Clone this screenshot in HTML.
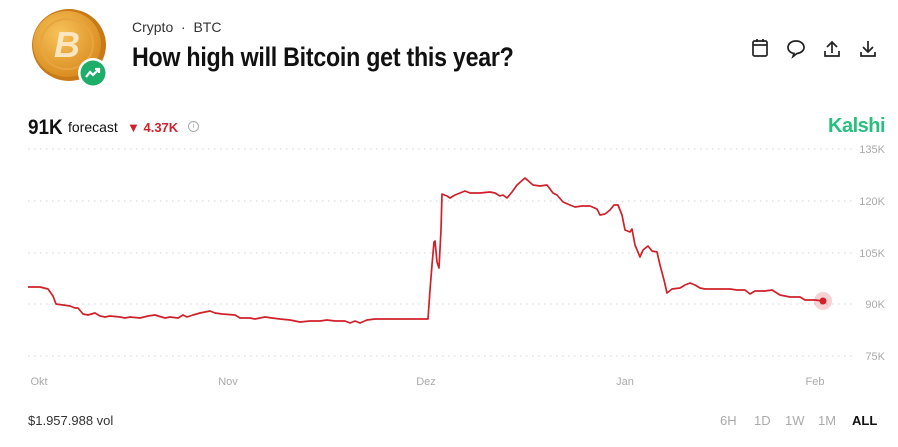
<!DOCTYPE html>
<html><head><meta charset="utf-8"><style>
body{margin:0;width:898px;height:447px;background:#fff;font-family:"Liberation Sans",sans-serif;position:relative;overflow:hidden}
.a{position:absolute;white-space:nowrap}
</style></head><body>
<svg class="a" style="left:28px;top:8px" width="84" height="84" viewBox="0 0 84 84">
<defs><radialGradient id="g" cx="40%" cy="35%" r="70%"><stop offset="0" stop-color="#f7c35a"/><stop offset="1" stop-color="#d8891c"/></radialGradient></defs>
<ellipse cx="41" cy="37" rx="37" ry="36" fill="#c87a18"/>
<ellipse cx="39" cy="36" rx="34" ry="33" fill="url(#g)"/>
<ellipse cx="39" cy="36" rx="26" ry="25" fill="none" stroke="#e8a440" stroke-width="2"/>
<text x="39" y="49" text-anchor="middle" font-size="36" font-weight="bold" font-style="italic" fill="#fbe6c0" font-family="Liberation Sans">B</text>
<circle cx="65" cy="65" r="15" fill="#fff"/><circle cx="65" cy="65" r="12.5" fill="#1eae6a"/>
<polyline points="58,69 62,64 65,67 71,61" fill="none" stroke="#fff" stroke-width="2.2"/>
<polyline points="67,61 71,61 71,65" fill="none" stroke="#fff" stroke-width="2.2"/>
</svg>
<div class="a" style="left:132px;top:19px;font-size:14px;color:#333">Crypto &nbsp;·&nbsp; BTC</div>
<div class="a" style="left:132px;top:42px;font-size:27px;font-weight:bold;color:#111;transform:scaleX(0.86);transform-origin:left;letter-spacing:-0.3px">How high will Bitcoin get this year?</div>
<svg class="a" style="left:750px;top:38px" width="130" height="22" fill="none" stroke="#222" stroke-width="1.7">
<rect x="3" y="3" width="14" height="15" rx="1.5"/><line x1="3" y1="7" x2="17" y2="7"/><line x1="7" y1="1" x2="7" y2="4"/><line x1="13" y1="1" x2="13" y2="4"/>
<path d="M46 3c-5 0-8 3-8 6.5 0 3 2.5 5.5 6 6l-1 3 4-3c4-.5 7-3 7-6 0-3.5-3-6.5-8-6.5z"/>
<path d="M82 4v11M77 9l5-5 5 5M75 13v5h14v-5"/>
<path d="M118 3v11M113 9l5 5 5-5M111 14v4h14v-4"/>
</svg>
<div class="a" style="left:28px;top:116px;font-size:21px;font-weight:bold;color:#111;transform:scaleX(0.9);transform-origin:left">91K</div>
<div class="a" style="left:68px;top:119px;font-size:14px;color:#111">forecast</div>
<div class="a" style="left:127px;top:120px;font-size:13px;color:#d0202a">▼ <b>4.37K</b></div>
<div class="a" style="left:188px;top:121px;width:9px;height:9px;border:1px solid #aaa;border-radius:50%;font-size:7px;color:#999;text-align:center;line-height:9px">i</div>
<div class="a" style="left:828px;top:115px;font-size:20px;font-weight:bold;color:#28c07f;letter-spacing:-0.5px">Kalshi</div>
<svg class="a" style="left:0;top:0" width="898" height="447">
<g stroke="#cfd3d8" stroke-width="1" stroke-dasharray="1.5 4.5">
<line x1="28" y1="149" x2="852" y2="149"/><line x1="28" y1="201" x2="852" y2="201"/><line x1="28" y1="253" x2="852" y2="253"/><line x1="28" y1="304" x2="852" y2="304"/><line x1="28" y1="356" x2="852" y2="356"/>
</g>
<g font-size="11" fill="#aaa" font-family="Liberation Sans">
<text x="885" y="153" text-anchor="end">135K</text><text x="885" y="205" text-anchor="end">120K</text><text x="885" y="257" text-anchor="end">105K</text><text x="885" y="308" text-anchor="end">90K</text><text x="885" y="360" text-anchor="end">75K</text>
<text x="39" y="385" text-anchor="middle">Okt</text><text x="228" y="385" text-anchor="middle">Nov</text><text x="426" y="385" text-anchor="middle">Dez</text><text x="625" y="385" text-anchor="middle">Jan</text><text x="815" y="385" text-anchor="middle">Feb</text>
</g>
<polyline fill="none" stroke="#d0202a" stroke-width="1.7" stroke-linejoin="round" points="28,287 40,287 48,289 53,296 56,304 63,305 70,306 75,308 78,308 83,314 88,315 95,313 100,316 105,317 110,316 120,317 125,318 130,317 140,318 148,316 155,315 165,318 170,317 178,318 183,315 187,317 193,315 200,313 205,312 210,311 215,313 222,314 235,315 240,318 250,318 255,319 265,317 272,318 280,319 290,320 300,322 310,321 320,321 327,320 335,321 345,321 350,323 355,321 360,323 367,320 375,319 380,319 428,319 430,290 432,265 434,242 435,241 437,262 439,268 441,230 442,194 447,196 450,198 455,195 460,193 465,191 470,193 480,193 490,192 495,193 500,196 503,195 507,198 512,192 517,185 525,178 533,185 540,186 547,185 553,193 557,195 563,202 570,205 575,207 582,206 590,206 597,209 600,215 605,214 610,210 614,205 618,205 622,215 625,230 630,232 632,229 635,245 640,257 643,250 648,246 652,251 657,252 660,265 664,280 667,293 672,289 680,288 685,285 690,283 695,285 700,288 705,289 715,289 730,289 737,290 745,290 750,294 755,291 765,291 772,290 780,295 790,297 800,297 805,300 815,300 823,301"/>
<circle cx="823" cy="301" r="9" fill="#d0202a" opacity="0.2"/><circle cx="823" cy="301" r="3.5" fill="#d0202a"/>
</svg>
<div class="a" style="left:28px;top:413px;font-size:13px;color:#333">$1.957.988 vol</div>
<div class="a" style="left:720px;top:413px;font-size:13px;color:#aaa;word-spacing:0">6H</div>
<div class="a" style="left:754px;top:413px;font-size:13px;color:#aaa">1D</div>
<div class="a" style="left:785px;top:413px;font-size:13px;color:#aaa">1W</div>
<div class="a" style="left:818px;top:413px;font-size:13px;color:#aaa">1M</div>
<div class="a" style="left:852px;top:413px;font-size:13px;color:#111;font-weight:bold">ALL</div>
</body></html>
